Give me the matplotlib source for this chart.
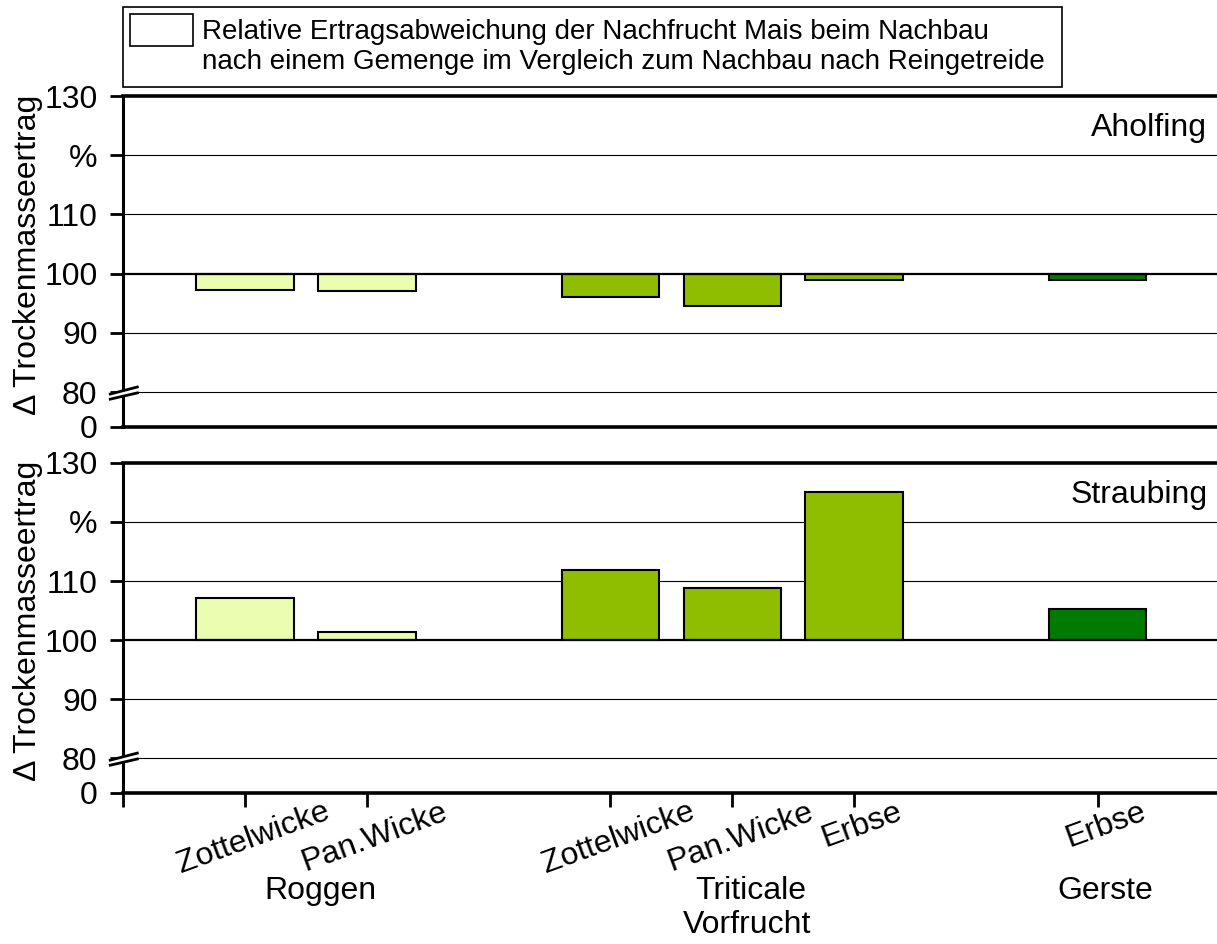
import matplotlib.pyplot as plt
import matplotlib.transforms as mtransforms
from matplotlib.patches import Rectangle, Polygon
import numpy as np

plt.rcParams['font.family'] = ['Liberation Sans', 'DejaVu Sans']

# data
vorfrucht = ["Roggen", "Roggen", "Triticale", "Triticale", "Triticale", "Gerste"]
gemenge = ["Zottelwicke", "Pan.Wicke", "Zottelwicke", "Pan.Wicke", "Erbse", "Erbse"]
aholfing = [97.3, 97.0, 96.1, 94.6, 99.0, 99.0]
straubing = [107.1, 101.3, 111.8, 108.8, 125.1, 105.2]
farben = {"Roggen": "#EAFDB0", "Triticale": "#8FBE00", "Gerste": "#007A00"}
ytick_werte = [0, 80, 90, 100, 110, 120, 130]
ytick_text = ["0", "80", "90", "100", "110", "%", "130"]
legend_text = ("Relative Ertragsabweichung der Nachfrucht Mais beim Nachbau\n"
               "nach einem Gemenge im Vergleich zum Nachbau nach Reingetreide")

# x positions: one slot per bar, an empty slot between groups
x = []
pos = 0
for i, g in enumerate(vorfrucht):
    pos += 1 if i == 0 or g == vorfrucht[i - 1] else 2
    x.append(pos)
x = np.array(x)

Y0 = 74.1  # where the "0" sits below the axis break

def ypos(v):
    return Y0 if v == 0 else v

fig = plt.figure(figsize=(12.17, 9.44), dpi=100)
ax_top = fig.add_axes([0.1013, 0.5477, 0.8987, 0.3506])
ax_bot = fig.add_axes([0.1013, 0.1600, 0.8987, 0.3496])

for ax, werte, ort in [(ax_top, aholfing, "Aholfing"), (ax_bot, straubing, "Straubing")]:
    ax.set_xlim(0, 8.98)
    ax.set_ylim(Y0, 130)
    for v in [80, 90, 110, 120]:
        ax.axhline(v, color='black', lw=0.8, zorder=1)
    ax.bar(x, np.array(werte) - 100, bottom=100, width=0.8,
           color=[farben[g] for g in vorfrucht], edgecolor='black', lw=1.5, zorder=2)
    ax.axhline(100, color='black', lw=1.6, zorder=3)

    ax.spines['right'].set_visible(False)
    ax.spines['left'].set_linewidth(2.2)
    ax.spines['top'].set_linewidth(2.6)
    ax.spines['bottom'].set_linewidth(2.6)

    ax.set_yticks([ypos(v) for v in ytick_werte])
    ax.set_yticklabels(ytick_text, fontsize=23)
    ax.tick_params(axis='y', length=9.5, width=2, pad=9)

    ax.set_ylabel("\u0394 Trockenmasseertrag", fontsize=23)
    ax.yaxis.set_label_coords(-0.0734, 0.52)

    ax.text(0.991, 0.879, ort, transform=ax.transAxes, ha='right', va='baseline', fontsize=23)

    # axis break marks at 80
    tr = mtransforms.blended_transform_factory(ax.transAxes, ax.transData)
    x0, x1 = -0.0119, 0.0128
    ax.add_patch(Polygon([[x0, 78.8], [x1, 79.85], [x1, 80.85], [x0, 79.66]],
                         closed=True, facecolor='white', edgecolor='none',
                         transform=tr, clip_on=False, zorder=5))
    ax.plot([x0, x1], [79.66, 80.85], color='black', lw=2, transform=tr, clip_on=False, zorder=6)
    ax.plot([x0, x1], [78.8, 79.85], color='black', lw=2, transform=tr, clip_on=False, zorder=6)

ax_top.set_xticks([])
ax_bot.set_xticks(np.concatenate([[0], x]))
ax_bot.set_xticklabels([""] + gemenge, fontsize=23, rotation=20, ha='center')
ax_bot.tick_params(axis='x', length=10, width=2, pad=-7)
shift = mtransforms.ScaledTranslation(8 / 100, 0, fig.dpi_scale_trans)
for lbl in ax_bot.get_xticklabels():
    lbl.set_transform(lbl.get_transform() + shift)

# group labels below the tick labels
tr = mtransforms.blended_transform_factory(ax_bot.transData, fig.transFigure)
versatz = {"Roggen": 0.12, "Triticale": 0.15, "Gerste": 0.06}
for g in dict.fromkeys(vorfrucht):
    xm = x[[i for i, v in enumerate(vorfrucht) if v == g]].mean()
    ax_bot.text(xm + versatz[g], 1 - 899 / 944, g, transform=tr, ha='center',
                va='baseline', fontsize=23)
ax_bot.text(x[[i for i, v in enumerate(vorfrucht) if v == "Triticale"]].mean() + 0.12,
            1 - 933 / 944, "Vorfrucht", transform=tr, ha='center', va='baseline', fontsize=23)

# legend box
W, H = 1217, 944
fig.patches.append(Rectangle((123 / W, 1 - 87 / H), (1062 - 123) / W, 80 / H,
                             transform=fig.transFigure, facecolor='white',
                             edgecolor='black', lw=1.2))
fig.patches.append(Rectangle((130 / W, 1 - 46 / H), 63 / W, 32 / H,
                             transform=fig.transFigure, facecolor='white',
                             edgecolor='black', lw=1.2))
fig.text(202 / W, 1 - 47 / H, legend_text, fontsize=20, ha='left', va='center',
         linespacing=1.22)

fig.savefig("out.png", dpi=100)
